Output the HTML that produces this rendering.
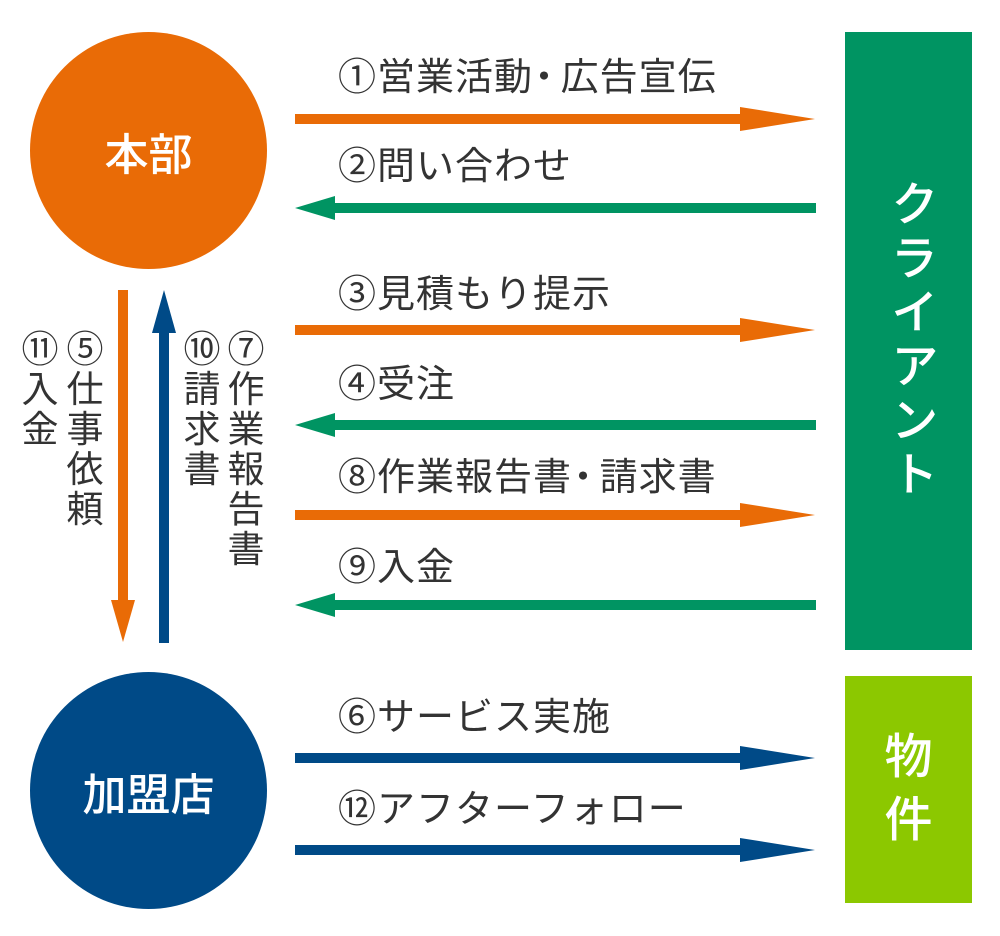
<html><head><style>
body{margin:0;width:1000px;height:936px;background:#fff;position:relative;overflow:hidden;font-family:"Liberation Sans","Noto Sans CJK JP",sans-serif;color:#333}
.c{position:absolute;border-radius:50%;color:#fff;font-size:44px;font-weight:500;display:flex;align-items:center;justify-content:center}
.b{position:absolute;color:#fff;font-size:48px;font-weight:500;display:flex;align-items:center;justify-content:center;text-align:center;line-height:1.3}
.l{position:absolute;left:338px;font-size:38px;line-height:40px;white-space:nowrap;font-weight:400;letter-spacing:1px}
.v{position:absolute;width:40px;font-size:37px;line-height:40px;text-align:center;font-weight:400}
</style></head><body>
<div class="c" style="left:30px;top:32px;width:237px;height:237px;background:#e96b06">本部</div>
<div class="c" style="left:30px;top:672px;width:237px;height:237px;background:#004a87">加盟店</div>
<div class="b" style="left:845px;top:32px;width:127px;height:618px;background:#009462;writing-mode:vertical-rl;letter-spacing:6px">クライアント</div>
<div class="b" style="left:845px;top:676px;width:127px;height:227px;background:#8cc800">物<br>件</div>
<svg width="1000" height="936" style="position:absolute;left:0;top:0">
<g fill="#e96b06">
<rect x="295" y="114" width="450" height="10"/><polygon points="740,107 815,119 740,131"/>
<rect x="295" y="325" width="450" height="10"/><polygon points="740,318 815,330 740,342"/>
<rect x="295" y="510" width="450" height="10"/><polygon points="740,503 815,515 740,527"/>
<rect x="118" y="290" width="10" height="315"/><polygon points="111,600 135,600 123,642"/>
</g>
<g fill="#009462">
<rect x="330" y="203" width="486" height="10"/><polygon points="335,196 295,208 335,220"/>
<rect x="330" y="420" width="486" height="10"/><polygon points="335,413 295,425 335,437"/>
<rect x="330" y="600" width="486" height="10"/><polygon points="335,593 295,605 335,617"/>
</g>
<g fill="#004a87">
<rect x="295" y="753" width="450" height="10"/><polygon points="740,746 815,758 740,770"/>
<rect x="295" y="845" width="450" height="10"/><polygon points="740,838 815,850 740,862"/>
<rect x="159" y="325" width="10" height="318"/><polygon points="152,333 176,333 164,290"/>
</g>
</svg>
<div class="l" style="top:58px">①営業活動<span style="letter-spacing:-14px;margin-left:-8px">・</span>&nbsp;広告宣伝</div>
<div class="l" style="top:147px">②問い合わせ</div>
<div class="l" style="top:275px">③見積もり提示</div>
<div class="l" style="top:365px">④受注</div>
<div class="l" style="top:458px">⑧作業報告書<span style="letter-spacing:-14px;margin-left:-8px">・</span>&nbsp;請求書</div>
<div class="l" style="top:548px">⑨入金</div>
<div class="l" style="top:698px">⑥サービス実施</div>
<div class="l" style="top:790px">⑫アフターフォロー</div>
<div class="v" style="left:20px;top:330px">⑪<br>入<br>金</div>
<div class="v" style="left:65px;top:330px">⑤<br>仕<br>事<br>依<br>頼</div>
<div class="v" style="left:182px;top:330px">⑩<br>請<br>求<br>書</div>
<div class="v" style="left:226px;top:330px">⑦<br>作<br>業<br>報<br>告<br>書</div>
</body></html>
